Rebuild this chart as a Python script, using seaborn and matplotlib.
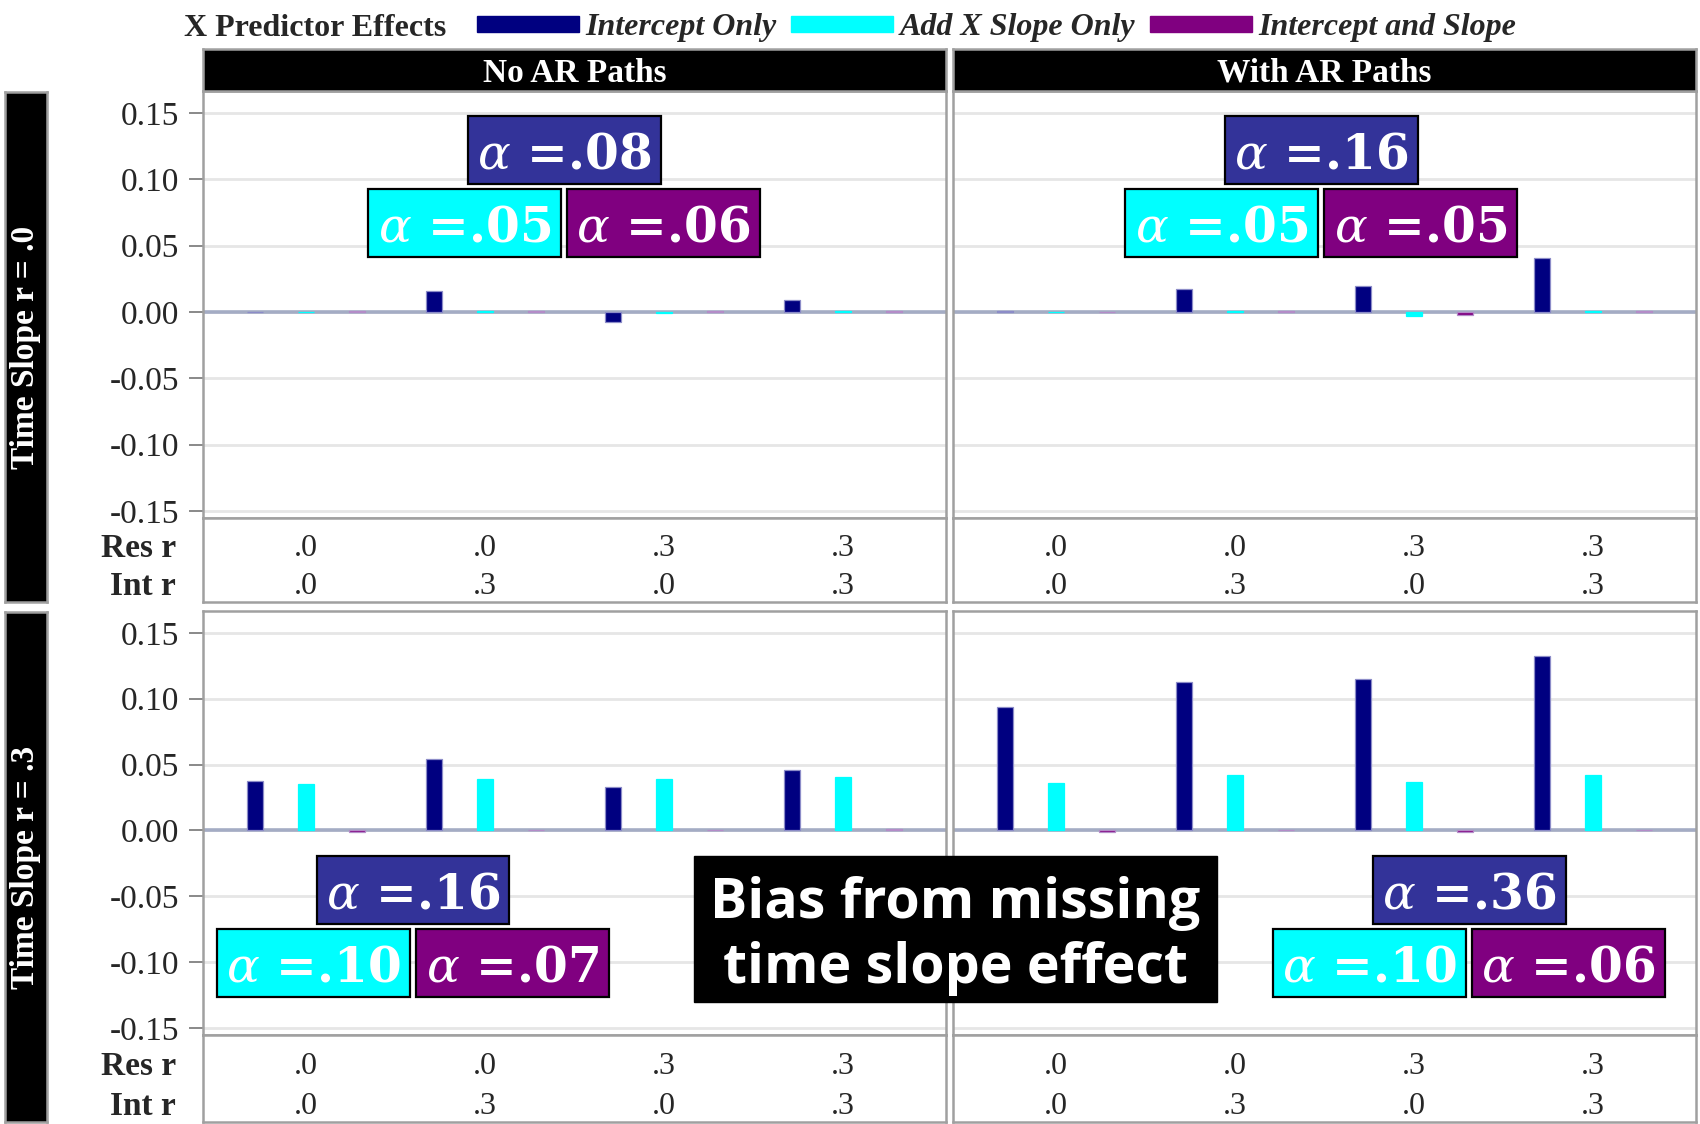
import numpy as np
import pandas as pd
import matplotlib
matplotlib.use("Agg")
import matplotlib.pyplot as plt
from matplotlib.patches import Rectangle, Patch
import seaborn as sns

# ---- data ----
effects = ["Intercept Only", "Add X Slope Only", "Intercept and Slope"]
effect_colors = ["#000080", "#00FFFF", "#800080"]
box_colors = ["#333399", "#00FFFF", "#800080"]
conditions = ["c1", "c2", "c3", "c4"]
res_r = [".0", ".0", ".3", ".3"]
int_r = [".0", ".3", ".0", ".3"]
col_titles = ["No AR Paths", "With AR Paths"]
row_titles = ["Time Slope r = .0", "Time Slope r = .3"]
yticks = [-0.15, -0.10, -0.05, 0.00, 0.05, 0.10, 0.15]

# bias per condition, one list per predictor effect
noar_s0_int = [0.0, 0.016, -0.0075, 0.009]
noar_s0_xslope = [0.0, 0.0004, -0.001, 0.0004]
noar_s0_both = [0.0005, 0.0005, 0.0005, 0.0004]

ar_s0_int = [0.0005, 0.017, 0.0195, 0.041]
ar_s0_xslope = [0.0, 0.0004, -0.003, 0.0004]
ar_s0_both = [0.0, 0.0005, -0.0025, 0.0004]

noar_s3_int = [0.0375, 0.054, 0.0333, 0.046]
noar_s3_xslope = [0.0355, 0.0388, 0.0388, 0.0405]
noar_s3_both = [-0.001, 0.0003, 0.0, 0.001]

ar_s3_int = [0.0937, 0.1125, 0.1153, 0.1325]
ar_s3_xslope = [0.036, 0.0418, 0.0368, 0.0418]
ar_s3_both = [-0.001, 0.0003, -0.001, 0.0003]

# alpha labels per panel: intercept only, x slope only, intercept and slope
alpha_noar_s0 = [".08", ".05", ".06"]
alpha_ar_s0 = [".16", ".05", ".05"]
alpha_noar_s3 = [".16", ".10", ".07"]
alpha_ar_s3 = [".36", ".10", ".06"]

# ---- layout (pixels) ----
W, H = 1700, 1124
cols_px = [(203, 946), (953, 1696)]
rows_px = [((91, 518), (518, 602)), ((611, 1035), (1035, 1122))]
alpha_anchor = [[(564, 116), (1321, 116)], [(413, 856), (1469, 856)]]

sns.set_style("white")
plt.rcParams["font.family"] = ["Liberation Serif", "DejaVu Sans"]
plt.rcParams["mathtext.fontset"] = "dejavuserif"

fig = plt.figure(figsize=(W / 100, H / 100), dpi=100)


def px_axes(x0, y0, x1, y1):
    return fig.add_axes([x0 / W, 1 - y1 / H, (x1 - x0) / W, (y1 - y0) / H])


def px_rect(x0, y0, x1, y1, **kw):
    r = Rectangle((x0 / W, 1 - y1 / H), (x1 - x0) / W, (y1 - y0) / H,
                  transform=fig.transFigure, **kw)
    fig.patches.append(r)
    return r


def style_spines(ax):
    for s in ax.spines.values():
        s.set_visible(True)
        s.set_color("#A0A0A0")
        s.set_linewidth(1.8)


panel_data = [
    [(noar_s0_int, noar_s0_xslope, noar_s0_both), (ar_s0_int, ar_s0_xslope, ar_s0_both)],
    [(noar_s3_int, noar_s3_xslope, noar_s3_both), (ar_s3_int, ar_s3_xslope, ar_s3_both)],
]
panel_alpha = [[alpha_noar_s0, alpha_ar_s0], [alpha_noar_s3, alpha_ar_s3]]

for r, ((py0, py1), (ty0, ty1)) in enumerate(rows_px):
    for c, (x0, x1) in enumerate(cols_px):
        vals = panel_data[r][c]
        df = pd.DataFrame({
            "cond": conditions * 3,
            "effect": np.repeat(effects, 4),
            "bias": vals[0] + vals[1] + vals[2],
        })
        ax = px_axes(x0, py0, x1, py1)
        ax.set_axisbelow(True)
        ax.yaxis.grid(True, color="#E6E6E6", lw=2)
        ax.axhline(0, color="#A4ACC4", lw=2.6, zorder=1.5)
        sns.barplot(data=df, x="cond", y="bias", hue="effect", order=conditions,
                    hue_order=effects, palette=effect_colors, saturation=1,
                    width=0.855, gap=0.69, errorbar=None, legend=False, ax=ax,
                    zorder=2)
        edge_cols = ["#8C8CC8", "#00FFFF", "#B48CC8"]
        for cont, ec in zip(ax.containers, edge_cols):
            for bar in cont:
                bar.set_edgecolor(ec)
                bar.set_linewidth(0.9)
        ax.set_xlim(-0.576, 3.576)
        ax.set_ylim(-0.1553, 0.1666)
        ax.set_xticks([])
        ax.set_xlabel("")
        ax.set_ylabel("")
        ax.set_yticks(yticks)
        style_spines(ax)
        if c == 0:
            ax.set_yticklabels([f"{t:.2f}" for t in yticks])
            ax.tick_params(axis="y", length=10, width=1.3, color="#808080",
                           pad=7, labelsize=24, left=True)
        else:
            ax.tick_params(axis="y", left=False, labelleft=False)

        # table of conditions under the panel
        tax = px_axes(x0, ty0, x1, ty1)
        tax.set_xlim(-0.576, 3.576)
        tax.set_ylim(0, 1)
        tax.set_xticks([])
        tax.set_yticks([])
        tax.set_facecolor("white")
        style_spines(tax)
        for i in range(len(conditions)):
            tax.text(i, 0.64, res_r[i], ha="center", va="center", fontsize=23)
            tax.text(i, 0.18, int_r[i], ha="center", va="center", fontsize=23)
        if c == 0:
            for yy, lab in [(0.64, "Res r"), (0.18, "Int r")]:
                tax.annotate(lab, xy=(0, yy), xycoords="axes fraction",
                             xytext=(-27, 0), textcoords="offset pixels",
                             ha="right", va="center", fontsize=24,
                             fontweight="bold")

        # alpha boxes
        ax_c, ay = alpha_anchor[r][c]
        bw, bh = 193, 68
        boxes = [(ax_c - bw / 2, ay), (ax_c - 3 - bw, ay + bh + 5), (ax_c + 3, ay + bh + 5)]
        for (bx, by), fc, lab in zip(boxes, box_colors, panel_alpha[r][c]):
            px_rect(bx, by, bx + bw, by + bh, facecolor=fc, edgecolor="black",
                    lw=1.6, zorder=3)
            fig.text((bx + bw / 2) / W, 1 - (by + bh / 2 + 5) / H,
                     r"$\alpha$ =" + lab, ha="center", va="center",
                     color="white", fontsize=35, fontweight="bold",
                     family="DejaVu Serif", zorder=4)

# column strips
for (x0, x1), title in zip(cols_px, col_titles):
    sax = px_axes(x0, 49, x1, 91)
    sax.set_facecolor("black")
    sax.set_xticks([])
    sax.set_yticks([])
    style_spines(sax)
    sax.text(0.5, 0.42, title, transform=sax.transAxes, ha="center", va="center",
             color="white", fontsize=24, fontweight="bold")

# row strips
for ((py0, _), (_, ty1)), title in zip(rows_px, row_titles):
    sax = px_axes(5, py0 + 1, 47, ty1)
    sax.set_facecolor("black")
    sax.set_xticks([])
    sax.set_yticks([])
    style_spines(sax)
    sax.text(0.5, 0.5, title, transform=sax.transAxes, ha="center", va="center",
             rotation=90, color="white", fontsize=24, fontweight="bold")

# legend
fig.text(184 / W, 1 - 29 / H, "X Predictor Effects", ha="left", va="center",
         fontsize=23, fontweight="bold")
handles = [Patch(facecolor=col, edgecolor=col) for col in effect_colors]
fig.legend(handles, effects, loc="center left", bbox_to_anchor=(477 / W, 1 - 28 / H),
           ncol=3, frameon=False, handlelength=3.2, handleheight=0.42,
           handletextpad=0.2, columnspacing=0.45, borderpad=0, borderaxespad=0,
           prop={"family": "Liberation Serif", "weight": "bold", "style": "italic",
                 "size": 23})

# big note box
px_rect(694, 856, 1217, 1002, facecolor="black", edgecolor="black", zorder=3)
fig.text(955.5 / W, 1 - 936 / H, "Bias from missing\ntime slope effect",
         ha="center", va="center", color="white", fontsize=40, fontweight="bold",
         family="Open Sans", linespacing=1.24, zorder=4)

fig.savefig("out.png", dpi=100, facecolor="white")
